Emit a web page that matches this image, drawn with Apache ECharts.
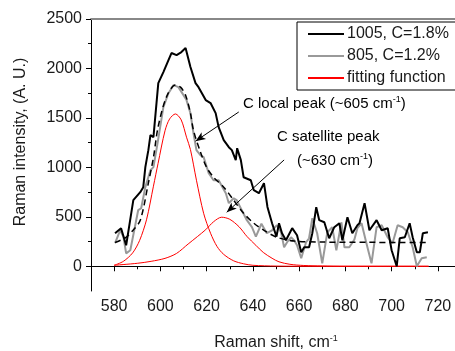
<!DOCTYPE html>
<html>
<head>
<meta charset="utf-8">
<script src="https://cdn.jsdelivr.net/npm/echarts@6/dist/echarts.min.js"></script>
<style>
  html, body { margin: 0; padding: 0; background: #fff; }
  #chart { width: 455px; height: 351px; }
</style>
</head>
<body>
<div id="chart"></div>
<script>
// values: [Raman shift, intensity]
const sample1005 = [[580.4,334],[583,385],[585.2,212],[588.3,668],[591.3,749],[592.6,800],[593.5,1002],[594.8,1174],[595.7,1326],[597,1305],[599.1,1852],[601.3,1963],[603.5,2085],[604.8,2156],[607,2135],[609.1,2166],[610.9,2206],[611.5,2206],[613,2014],[615.2,1852],[616.5,1811],[619.6,1680],[621.7,1650],[623.9,1548],[625.2,1407],[627.4,1275],[629.6,1204],[630.9,1174],[632.6,1073],[633.2,1194],[634.8,1073],[636,900],[639.1,870],[640.4,769],[642.6,739],[644.8,840],[646.3,600],[648.3,435],[650.2,300],[651.3,435],[652.6,334],[654.3,263],[657,385],[659.1,314],[660.9,142],[662.2,192],[664.3,192],[665.7,334],[667.4,597],[668.7,466],[670.9,445],[673,283],[675.2,395],[677.4,435],[678.7,263],[680.9,496],[683,334],[685.2,415],[686.1,435],[688.3,638],[690.4,364],[693.5,466],[695.7,364],[698.3,385],[700,162],[702.2,0],[703.5,283],[705.7,293],[707.8,435],[709.1,293],[710.9,142],[712.2,142],[713.5,334],[715.7,344]];

const sample805 = [[580.4,233],[582.6,364],[584,300],[585.2,130],[587,162],[590.4,567],[591.7,587],[593.5,800],[595.7,971],[597,1002],[599,1275],[601.3,1609],[603.5,1750],[605.7,1832],[607.8,1811],[610,1730],[611.3,1680],[613,1548],[614.3,1346],[615.6,1174],[617.4,1120],[618.7,1103],[620.9,941],[623,870],[625.2,870],[628.3,739],[629.6,638],[631.7,688],[633,668],[635.2,567],[637.4,466],[639.6,395],[641.3,300],[643.7,430],[646,334],[648.3,364],[650.4,415],[652.2,344],[653.5,192],[654.8,243],[656.5,293],[657.8,263],[659.1,212],[660.9,81],[663,243],[664.3,283],[665.7,486],[667.8,334],[670,30],[672.2,344],[674.3,395],[676.1,162],[678.3,445],[679.6,192],[681.7,192],[683.9,270],[685.2,385],[687,435],[689.1,233],[691.3,30],[693.5,395],[695.7,415],[698.3,293],[700.4,233],[702.6,415],[704.8,395],[707,344],[709.1,192],[710.9,0],[713,81],[715.2,91]];

const fitSum = [[580.4,240],[585,290],[588,360],[591.3,465],[594.8,840],[597,1100],[599,1407],[602.6,1710],[606.5,1832],[608.7,1811],[610.9,1730],[613,1548],[614.3,1376],[617.4,1150],[620,1000],[623,900],[627.4,800],[631.7,668],[636,536],[640.4,435],[644.8,364],[650.4,293],[658,255],[670,245],[690,242],[716,240]];

const localPeak = [[580,10],[584,50],[588,135],[591,260],[594,470],[597,810],[599,1040],[602,1370],[604,1490],[606.5,1540],[609,1480],[611.3,1305],[613,1180],[615.6,870],[618.7,536],[621.7,334],[624.5,200],[627.4,120],[631.7,55],[636,25],[640,10],[650,2],[670,0],[716,0]];

const satellitePeak = [[580,10],[590,30],[596,50],[602,80],[607,130],[612,225],[616,300],[619.6,370],[623,450],[626.5,496],[630,475],[634,400],[637.5,300],[641.3,212],[644.5,140],[648.3,81],[651.3,45],[656,20],[662,8],[670,3],[680,0],[716,0]];

const xMajor = [580, 600, 620, 640, 660, 680, 700, 720];
const xMinor = [590, 610, 630, 650, 670, 690, 710, 730];
const yMajor = [0, 500, 1000, 1500, 2000, 2500];
const yMinor = [250, 750, 1250, 1750, 2250];

const FONT = 'Liberation Sans, Arial, sans-serif';
const TXT = '#1a1a1a';

const chart = echarts.init(document.getElementById('chart'));

function supStyle(size) {
  return {
    a: { fontSize: size, fontFamily: FONT, color: TXT, lineHeight: size + 2 },
    s: { fontSize: 9, fontFamily: FONT, color: TXT, lineHeight: size + 2, verticalAlign: 'top' }
  };
}

chart.setOption({
  animation: false,
  backgroundColor: '#fff',
  grid: { left: 91, right: -6, top: 19, bottom: 60, outerBoundsMode: 'none', containLabel: false },
  legend: {
    orient: 'vertical',
    left: 297,
    top: 22,
    padding: [4, 20, 4, 10],
    itemWidth: 36,
    itemHeight: 14,
    itemGap: 6,
    borderColor: '#000',
    borderWidth: 1,
    itemStyle: { opacity: 0 },
    textStyle: { fontSize: 16, fontFamily: FONT, color: TXT, padding: [0, 0, 0, -2] },
    data: ['1005, C=1.8%', '805, C=1.2%', 'fitting function']
  },
  xAxis: [
    {
      type: 'value', min: 570, max: 730, interval: 10,
      axisLine: { lineStyle: { color: '#000', width: 1 } },
      axisTick: { customValues: xMajor, length: 5, lineStyle: { color: '#000' } },
      axisLabel: { customValues: xMajor, fontSize: 16, fontFamily: FONT, color: TXT, margin: 8 },
      splitLine: { show: false },
      name: '{a|Raman shift, cm}{s|-1}',
      nameLocation: 'middle',
      nameGap: 43,
      nameTextStyle: { rich: supStyle(16) }
    },
    {
      type: 'value', min: 570, max: 730, interval: 10, position: 'bottom',
      axisLine: { show: false },
      axisTick: { customValues: xMinor, length: 3, lineStyle: { color: '#000' } },
      axisLabel: { show: false },
      splitLine: { show: false }
    },
    {
      type: 'value', min: 570, max: 730, interval: 10, position: 'top',
      axisLine: { lineStyle: { color: '#888', width: 2 } },
      axisTick: { show: false },
      axisLabel: { show: false },
      splitLine: { show: false }
    }
  ],
  yAxis: [
    {
      type: 'value', min: -250, max: 2500, interval: 250, position: 'left',
      axisLine: { show: true, lineStyle: { color: '#000', width: 1 } },
      axisTick: { show: true, customValues: yMajor, length: 5, lineStyle: { color: '#000' } },
      axisLabel: {
        customValues: yMajor, fontSize: 16, fontFamily: FONT, color: TXT, margin: 9,
        formatter: v => String(v)
      },
      splitLine: { show: false }
    },
    {
      type: 'value', min: -250, max: 2500, interval: 250, position: 'left',
      axisLine: { show: false },
      axisTick: { show: true, customValues: yMinor, length: 3, lineStyle: { color: '#000' } },
      axisLabel: { show: false },
      splitLine: { show: false }
    }
  ],
  series: [
    {
      name: 'fitting function', type: 'line', data: localPeak,
      smooth: 0.3, showSymbol: false, symbol: 'none',
      lineStyle: { color: '#ff0000', width: 1 }, itemStyle: { color: '#ff0000' }, z: 2
    },
    {
      name: 'fitting function', type: 'line', data: satellitePeak,
      smooth: 0.3, showSymbol: false, symbol: 'none',
      lineStyle: { color: '#ff0000', width: 1 }, itemStyle: { color: '#ff0000' }, z: 2
    },
    {
      name: '805, C=1.2%', type: 'line', data: sample805,
      showSymbol: false, symbol: 'none',
      lineStyle: { color: '#999', width: 2 }, itemStyle: { color: '#999' }, z: 3
    },
    {
      name: '1005, C=1.8%', type: 'line', data: sample1005,
      showSymbol: false, symbol: 'none',
      lineStyle: { color: '#000', width: 2 }, itemStyle: { color: '#000' }, z: 4
    },
    {
      name: 'fit', type: 'line', data: fitSum,
      smooth: 0.3, showSymbol: false, symbol: 'none',
      lineStyle: { color: '#000', width: 1.5, type: [6, 4] }, z: 5,
      markLine: {
        silent: true,
        symbol: ['none', 'arrow'],
        symbolSize: [6, 10],
        label: { show: false },
        lineStyle: { color: '#000', width: 1, type: 'solid' },
        data: [
          [{ coord: [633.9, 1560] }, { coord: [615.2, 1265] }],
          [{ coord: [653.5, 1075] }, { coord: [628.7, 546] }]
        ]
      }
    }
  ],
  graphic: [
    {
      type: 'text', x: 21, y: 142, rotation: Math.PI / 2,
      style: {
        text: 'Raman intensity, (A. U.)', fontSize: 16, fontFamily: FONT, fill: TXT,
        align: 'center', verticalAlign: 'middle'
      }
    },
    {
      type: 'text', x: 243, y: 95,
      style: { text: '{a|C local peak (~605 cm}{s|-1}{a|)}', rich: supStyle(15) }
    },
    {
      type: 'text', x: 277, y: 128,
      style: { text: '{a|C satellite peak}', rich: supStyle(15) }
    },
    {
      type: 'text', x: 297, y: 152,
      style: { text: '{a|(~630 cm}{s|-1}{a|)}', rich: supStyle(15) }
    }
  ]
});
</script>
</body>
</html>
